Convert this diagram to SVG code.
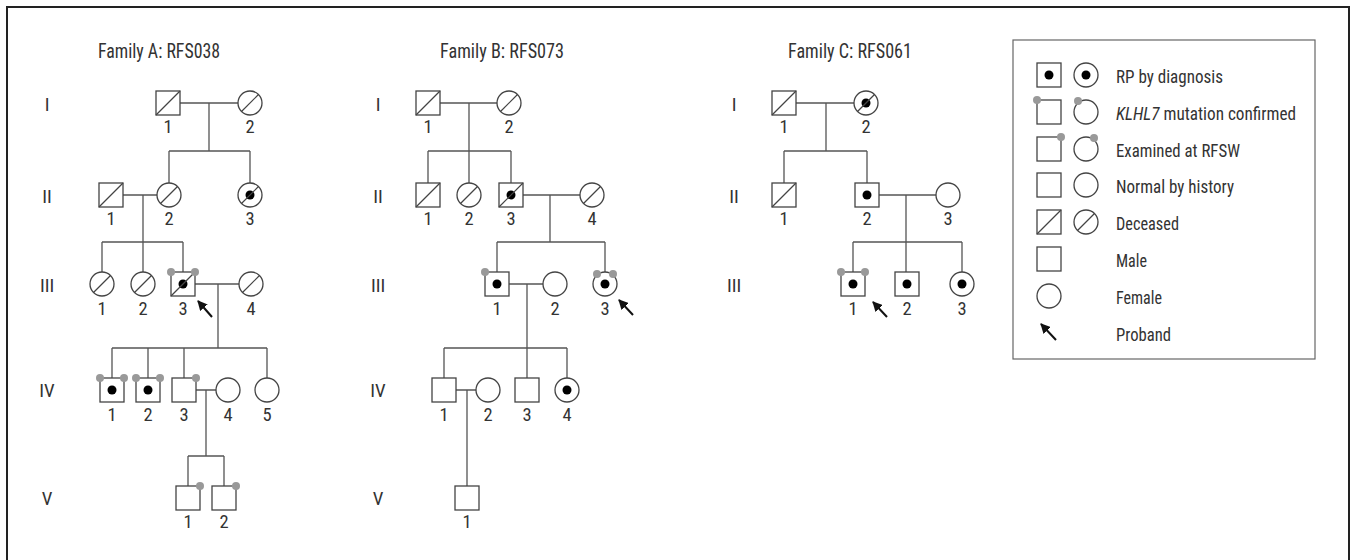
<svg xmlns="http://www.w3.org/2000/svg" width="1357" height="560" viewBox="0 0 1357 560">
<style>
.bg{fill:#fff}
.frame{fill:none;stroke:#222;stroke-width:2}
.sym{fill:#fff;stroke:#444;stroke-width:1.3}
.sl{stroke:#444;stroke-width:1.2;fill:none}
.con{stroke:#555;stroke-width:1.3;fill:none}
.aff{fill:#000}
.kd{fill:#999}
.arr{stroke:#111;stroke-width:2;fill:none}
text{font-family:"Roboto Condensed","Liberation Sans Narrow","DejaVu Sans Condensed","Liberation Sans",sans-serif;fill:#333}
.title{font-size:20px;text-anchor:middle}
.num{font-size:18.5px;text-anchor:middle}
.gen{font-size:19px;text-anchor:middle}
.leg{font-size:19px}
.legbox{fill:#fff;stroke:#666;stroke-width:1.2}
</style>
<defs>
<marker id="ah" viewBox="0 0 10 10" refX="9" refY="5" markerWidth="5" markerHeight="5" orient="auto" markerUnits="strokeWidth">
<path d="M0,0 L10,5 L0,10 z" fill="#111"/>
</marker>
</defs>
<rect class="bg" x="0" y="0" width="1357" height="560"/>
<path class="frame" d="M7,562 V7 H1349 V562"/>

<!-- titles and generation labels -->
<text class="title" x="159" y="58" textLength="122" lengthAdjust="spacingAndGlyphs">Family A: RFS038</text>
<text class="title" x="502" y="58" textLength="124" lengthAdjust="spacingAndGlyphs">Family B: RFS073</text>
<text class="title" x="850" y="58" textLength="124" lengthAdjust="spacingAndGlyphs">Family C: RFS061</text>
<g id="genA">
<text class="gen" x="47" y="111">I</text><text class="gen" x="47" y="203">II</text><text class="gen" x="47" y="292">III</text><text class="gen" x="47" y="397">IV</text><text class="gen" x="47" y="505">V</text>
</g>
<g id="genB">
<text class="gen" x="378" y="111">I</text><text class="gen" x="378" y="203">II</text><text class="gen" x="378" y="292">III</text><text class="gen" x="378" y="397">IV</text><text class="gen" x="378" y="505">V</text>
</g>
<g id="genC">
<text class="gen" x="734" y="111">I</text><text class="gen" x="734" y="203">II</text><text class="gen" x="734" y="292">III</text>
</g>

<!-- connectors -->
<g id="connectors" class="con">
<!-- Family A -->
<path d="M180,103 H238 M209,103 V151 M169,151 H250 M169,151 V183 M250,151 V183"/>
<path d="M123,195 H157 M143,195 V242 M102,242 H183 M102,242 V272 M143,242 V272 M183,242 V272"/>
<path d="M195,284 H239 M218,284 V348 M112,348 H267 M112,348 V378 M148,348 V378 M184,348 V378 M267,348 V378"/>
<path d="M196,390 H216 M206,390 V456 M188,456 H224 M188,456 V486 M224,456 V486"/>
<!-- Family B -->
<path d="M440,103 H497 M469,103 V151 M428,151 H511 M428,151 V183 M469,151 V183 M511,151 V183"/>
<path d="M523,195 H580 M550,195 V242 M497,242 H605 M497,242 V272 M605,242 V272"/>
<path d="M509,284 H543 M527,284 V348 M444,348 H567 M444,348 V378 M527,348 V378 M567,348 V378"/>
<path d="M456,390 H476 M467,390 V486"/>
<!-- Family C -->
<path d="M796,103 H854 M826,103 V151 M784,151 H867 M784,151 V183 M867,151 V183"/>
<path d="M879,195 H936 M906,195 V242 M853,242 H962 M853,242 V272 M906,242 V272 M962,242 V272"/>
</g>

<!-- Family A nodes -->
<g id="A-I-1"><rect class="sym" x="156" y="91" width="24" height="24"/><path class="sl" d="M156,115 L180,91"/><text class="num" x="168" y="133">1</text></g>
<g id="A-I-2"><circle class="sym" cx="250" cy="103" r="12"/><path class="sl" d="M241.5,111.5 L258.5,94.5"/><text class="num" x="250" y="133">2</text></g>
<g id="A-II-1"><rect class="sym" x="99" y="183" width="24" height="24"/><path class="sl" d="M99,207 L123,183"/><text class="num" x="111" y="225">1</text></g>
<g id="A-II-2"><circle class="sym" cx="169" cy="195" r="12"/><path class="sl" d="M160.5,203.5 L177.5,186.5"/><text class="num" x="169" y="225">2</text></g>
<g id="A-II-3"><circle class="sym" cx="250" cy="195" r="12"/><circle class="aff" cx="250" cy="195" r="4.5"/><path class="sl" d="M241.5,203.5 L258.5,186.5"/><text class="num" x="250" y="225">3</text></g>
<g id="A-III-1"><circle class="sym" cx="102" cy="284" r="12"/><path class="sl" d="M93.5,292.5 L110.5,275.5"/><text class="num" x="102" y="315">1</text></g>
<g id="A-III-2"><circle class="sym" cx="143" cy="284" r="12"/><path class="sl" d="M134.5,292.5 L151.5,275.5"/><text class="num" x="143" y="315">2</text></g>
<g id="A-III-3"><rect class="sym" x="171" y="272" width="24" height="24"/><circle class="aff" cx="183" cy="284" r="4.5"/><path class="sl" d="M171,296 L195,272"/><circle class="kd" cx="171" cy="272" r="4"/><circle class="kd" cx="195" cy="272" r="4"/><path class="arr" d="M212,317 L198,301" marker-end="url(#ah)"/><text class="num" x="183" y="315">3</text></g>
<g id="A-III-4"><circle class="sym" cx="251" cy="284" r="12"/><path class="sl" d="M242.5,292.5 L259.5,275.5"/><text class="num" x="251" y="315">4</text></g>
<g id="A-IV-1"><rect class="sym" x="100" y="378" width="24" height="24"/><circle class="aff" cx="112" cy="390" r="4.5"/><circle class="kd" cx="100" cy="378" r="4"/><circle class="kd" cx="124" cy="378" r="4"/><text class="num" x="112" y="421">1</text></g>
<g id="A-IV-2"><rect class="sym" x="136" y="378" width="24" height="24"/><circle class="aff" cx="148" cy="390" r="4.5"/><circle class="kd" cx="136" cy="378" r="4"/><circle class="kd" cx="160" cy="378" r="4"/><text class="num" x="148" y="421">2</text></g>
<g id="A-IV-3"><rect class="sym" x="172" y="378" width="24" height="24"/><circle class="kd" cx="196" cy="378" r="4"/><text class="num" x="184" y="421">3</text></g>
<g id="A-IV-4"><circle class="sym" cx="228" cy="390" r="12"/><text class="num" x="228" y="421">4</text></g>
<g id="A-IV-5"><circle class="sym" cx="267" cy="390" r="12"/><text class="num" x="267" y="421">5</text></g>
<g id="A-V-1"><rect class="sym" x="176" y="486" width="24" height="24"/><circle class="kd" cx="200" cy="486" r="4"/><text class="num" x="188" y="528">1</text></g>
<g id="A-V-2"><rect class="sym" x="212" y="486" width="24" height="24"/><circle class="kd" cx="236" cy="486" r="4"/><text class="num" x="224" y="528">2</text></g>

<!-- Family B nodes -->
<g id="B-I-1"><rect class="sym" x="416" y="91" width="24" height="24"/><path class="sl" d="M416,115 L440,91"/><text class="num" x="428" y="133">1</text></g>
<g id="B-I-2"><circle class="sym" cx="509" cy="103" r="12"/><path class="sl" d="M500.5,111.5 L517.5,94.5"/><text class="num" x="509" y="133">2</text></g>
<g id="B-II-1"><rect class="sym" x="416" y="183" width="24" height="24"/><path class="sl" d="M416,207 L440,183"/><text class="num" x="428" y="225">1</text></g>
<g id="B-II-2"><circle class="sym" cx="469" cy="195" r="12"/><path class="sl" d="M460.5,203.5 L477.5,186.5"/><text class="num" x="469" y="225">2</text></g>
<g id="B-II-3"><rect class="sym" x="499" y="183" width="24" height="24"/><circle class="aff" cx="511" cy="195" r="4.5"/><path class="sl" d="M499,207 L523,183"/><text class="num" x="511" y="225">3</text></g>
<g id="B-II-4"><circle class="sym" cx="592" cy="195" r="12"/><path class="sl" d="M583.5,203.5 L600.5,186.5"/><text class="num" x="592" y="225">4</text></g>
<g id="B-III-1"><rect class="sym" x="485" y="272" width="24" height="24"/><circle class="aff" cx="497" cy="284" r="4.5"/><circle class="kd" cx="485" cy="272" r="4"/><text class="num" x="497" y="315">1</text></g>
<g id="B-III-2"><circle class="sym" cx="555" cy="284" r="12"/><text class="num" x="555" y="315">2</text></g>
<g id="B-III-3"><circle class="sym" cx="605" cy="284" r="12"/><circle class="aff" cx="605" cy="284" r="4.5"/><circle class="kd" cx="597" cy="274" r="4"/><circle class="kd" cx="613" cy="274" r="4"/><path class="arr" d="M633,315 L619,300" marker-end="url(#ah)"/><text class="num" x="605" y="315">3</text></g>
<g id="B-IV-1"><rect class="sym" x="432" y="378" width="24" height="24"/><text class="num" x="444" y="421">1</text></g>
<g id="B-IV-2"><circle class="sym" cx="488" cy="390" r="12"/><text class="num" x="488" y="421">2</text></g>
<g id="B-IV-3"><rect class="sym" x="515" y="378" width="24" height="24"/><text class="num" x="527" y="421">3</text></g>
<g id="B-IV-4"><circle class="sym" cx="567" cy="390" r="12"/><circle class="aff" cx="567" cy="390" r="4.5"/><text class="num" x="567" y="421">4</text></g>
<g id="B-V-1"><rect class="sym" x="455" y="486" width="24" height="24"/><text class="num" x="467" y="528">1</text></g>

<!-- Family C nodes -->
<g id="C-I-1"><rect class="sym" x="772" y="91" width="24" height="24"/><path class="sl" d="M772,115 L796,91"/><text class="num" x="784" y="133">1</text></g>
<g id="C-I-2"><circle class="sym" cx="866" cy="103" r="12"/><circle class="aff" cx="866" cy="103" r="4.5"/><path class="sl" d="M857.5,111.5 L874.5,94.5"/><text class="num" x="866" y="133">2</text></g>
<g id="C-II-1"><rect class="sym" x="772" y="183" width="24" height="24"/><path class="sl" d="M772,207 L796,183"/><text class="num" x="784" y="225">1</text></g>
<g id="C-II-2"><rect class="sym" x="855" y="183" width="24" height="24"/><circle class="aff" cx="867" cy="195" r="4.5"/><text class="num" x="867" y="225">2</text></g>
<g id="C-II-3"><circle class="sym" cx="948" cy="195" r="12"/><text class="num" x="948" y="225">3</text></g>
<g id="C-III-1"><rect class="sym" x="841" y="272" width="24" height="24"/><circle class="aff" cx="853" cy="284" r="4.5"/><circle class="kd" cx="841" cy="272" r="4"/><circle class="kd" cx="865" cy="272" r="4"/><path class="arr" d="M887,317 L873,302" marker-end="url(#ah)"/><text class="num" x="853" y="315">1</text></g>
<g id="C-III-2"><rect class="sym" x="895" y="272" width="24" height="24"/><circle class="aff" cx="907" cy="284" r="4.5"/><text class="num" x="907" y="315">2</text></g>
<g id="C-III-3"><circle class="sym" cx="962" cy="284" r="12"/><circle class="aff" cx="962" cy="284" r="4.5"/><text class="num" x="962" y="315">3</text></g>

<!-- Legend -->
<g id="legend">
<rect class="legbox" x="1013" y="40" width="302" height="319"/>
<g id="leg-rp"><rect class="sym" x="1037" y="63" width="24" height="24"/><circle class="aff" cx="1049" cy="75" r="4.5"/><circle class="sym" cx="1086" cy="75" r="12"/><circle class="aff" cx="1086" cy="75" r="4.5"/><text class="leg" x="1116" y="83" textLength="107" lengthAdjust="spacingAndGlyphs">RP by diagnosis</text></g>
<g id="leg-klhl7"><rect class="sym" x="1037" y="100" width="24" height="24"/><circle class="kd" cx="1037" cy="100" r="4"/><circle class="sym" cx="1086" cy="112" r="12"/><circle class="kd" cx="1078" cy="101" r="4"/><text class="leg" x="1116" y="120" textLength="180" lengthAdjust="spacingAndGlyphs"><tspan font-style="italic">KLHL7</tspan> mutation confirmed</text></g>
<g id="leg-exam"><rect class="sym" x="1037" y="137" width="24" height="24"/><circle class="kd" cx="1061" cy="137" r="4"/><circle class="sym" cx="1086" cy="149" r="12"/><circle class="kd" cx="1094" cy="138" r="4"/><text class="leg" x="1116" y="157" textLength="124" lengthAdjust="spacingAndGlyphs">Examined at RFSW</text></g>
<g id="leg-normal"><rect class="sym" x="1037" y="173" width="24" height="24"/><circle class="sym" cx="1086" cy="185" r="12"/><text class="leg" x="1116" y="193" textLength="118" lengthAdjust="spacingAndGlyphs">Normal by history</text></g>
<g id="leg-dec"><rect class="sym" x="1037" y="210" width="24" height="24"/><path class="sl" d="M1037,234 L1061,210"/><circle class="sym" cx="1086" cy="222" r="12"/><path class="sl" d="M1077.5,230.5 L1094.5,213.5"/><text class="leg" x="1116" y="230" textLength="63" lengthAdjust="spacingAndGlyphs">Deceased</text></g>
<g id="leg-male"><rect class="sym" x="1037" y="247" width="24" height="24"/><text class="leg" x="1116" y="267" textLength="31" lengthAdjust="spacingAndGlyphs">Male</text></g>
<g id="leg-female"><circle class="sym" cx="1049" cy="296" r="12"/><text class="leg" x="1116" y="304" textLength="46" lengthAdjust="spacingAndGlyphs">Female</text></g>
<g id="leg-proband"><path class="arr" d="M1056,340 L1041,324" marker-end="url(#ah)"/><text class="leg" x="1116" y="341" textLength="55" lengthAdjust="spacingAndGlyphs">Proband</text></g>
</g>
</svg>
